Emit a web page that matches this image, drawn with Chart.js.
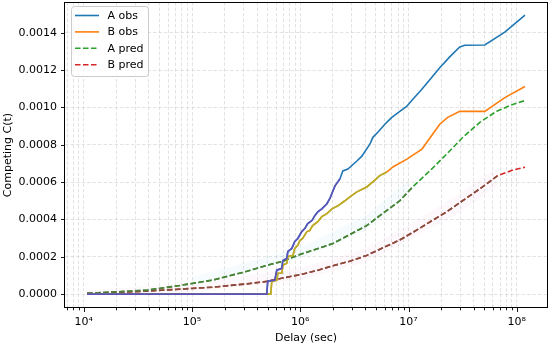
<!DOCTYPE html>
<html>
<head>
<meta charset="utf-8">
<script src="https://cdn.jsdelivr.net/npm/chart.js@4.4.1/dist/chart.umd.min.js"></script>
<style>
  html, body { margin: 0; padding: 0; background: #fff; }
  #wrap { width: 550px; height: 347px; }
</style>
</head>
<body>
<div id="wrap"><canvas id="chart"></canvas></div>
<script>
// observed curves
const aObsX = [1.07e4, 4.9e5, 5.0e5, 5.81e5, 6.06e5, 6.75e5, 6.89e5, 7.5e5, 7.67e5, 8.34e5, 8.89e5, 9.48e5, 1.03e6, 1.10e6, 1.17e6, 1.28e6, 1.36e6, 1.45e6, 1.58e6, 1.76e6, 1.87e6, 2.09e6, 2.32e6, 2.47e6, 2.75e6, 3.33e6, 3.70e6, 4.39e6, 4.68e6, 5.2e6, 6.04e6, 6.7e6, 7.0e6, 8.3e6, 9.6e6, 1.09e7, 1.32e7, 1.57e7, 1.94e7, 2.40e7, 2.97e7, 3.31e7, 5.06e7, 7.74e7, 1.19e8];
const aObsY = [0, 0, 0.000069, 0.000074, 0.000128, 0.000138, 0.000180, 0.000191, 0.000229, 0.000245, 0.000282, 0.000298, 0.000335, 0.000351, 0.000378, 0.000394, 0.000420, 0.000441, 0.000457, 0.000484, 0.000511, 0.000580, 0.000617, 0.000660, 0.000670, 0.000713, 0.000739, 0.000803, 0.000840, 0.000867, 0.000910, 0.000936, 0.000947, 0.000979, 0.001005, 0.001043, 0.001096, 0.001149, 0.001213, 0.001271, 0.001324, 0.001333, 0.001335, 0.001404, 0.001495];

const bObsX = [1.07e4, 5.33e5, 5.45e5, 6.07e5, 6.2e5, 6.75e5, 6.89e5, 7.5e5, 7.67e5, 8.53e5, 8.89e5, 9.48e5, 9.9e5, 1.05e6, 1.15e6, 1.22e6, 1.30e6, 1.45e6, 1.58e6, 1.76e6, 1.96e6, 2.22e6, 2.58e6, 2.87e6, 3.33e6, 4.11e6, 4.68e6, 5.42e6, 6.29e6, 7.16e6, 9.64e6, 1.33e7, 1.94e7, 2.30e7, 2.97e7, 5.06e7, 7.74e7, 1.19e8];
const bObsY = [0, 0, 0.000069, 0.000074, 0.000112, 0.000112, 0.000154, 0.000165, 0.000202, 0.000207, 0.000245, 0.000261, 0.000287, 0.000298, 0.000335, 0.000340, 0.000367, 0.000388, 0.000415, 0.000431, 0.000457, 0.000473, 0.000500, 0.000521, 0.000548, 0.000574, 0.000601, 0.000635, 0.000654, 0.000681, 0.000723, 0.000777, 0.000910, 0.000947, 0.000979, 0.000979, 0.001053, 0.001112];

// predicted curves
const aPredX = [1.07e4, 1.85e4, 3.82e4, 7.7e4, 1.55e5, 3.21e5, 4.9e5, 6.89e5, 9.9e5, 2.0e6, 2.86e6, 4.1e6, 5.42e6, 8.3e6, 1.09e7, 1.57e7, 2.25e7, 3.17e7, 4.55e7, 6.53e7, 9.18e7, 1.19e8];
const aPredY = [0.000004, 0.000011, 0.000021, 0.000046, 0.000075, 0.000122, 0.000154, 0.000176, 0.000212, 0.000271, 0.000319, 0.000367, 0.000420, 0.000500, 0.000574, 0.000660, 0.000750, 0.000840, 0.000920, 0.000980, 0.001016, 0.001037];

const bPredX = [1.07e4, 3.82e4, 1.55e5, 3.21e5, 4.9e5, 6.89e5, 9.9e5, 1.42e6, 2.0e6, 2.86e6, 4.1e6, 5.42e6, 8.3e6, 1.09e7, 2.25e7, 4.55e7, 6.6e7, 9.2e7, 1.19e8];
const bPredY = [0.000003, 0.000016, 0.000037, 0.000055, 0.000068, 0.000086, 0.000104, 0.000126, 0.000152, 0.000176, 0.000207, 0.000240, 0.000290, 0.000330, 0.000441, 0.000564, 0.000633, 0.000665, 0.000680];

// faint bands
const pinkBandX = [1.07e4, 1e5, 1e6, 4e6, 1e7, 3e7, 6.6e7];
const pinkBandLo = [0, 0.000010, 0.000075, 0.000170, 0.000290, 0.000440, 0.000580];
const pinkBandHi = [0.000020, 0.000060, 0.000140, 0.000245, 0.000370, 0.000540, 0.000680];
const cyanBandX = [1e5, 1e6, 4e6, 1e7];
const cyanBandLo = [0.00005, 0.00019, 0.00034, 0.00053];
const cyanBandHi = [0.00009, 0.00025, 0.00042, 0.00061];

// where the darker early segments stop
const aObsOverlayEnd = 2.32e6;
const bObsOverlayEnd = 6.29e6;
const aPredOverlayEnd = 1.1e7;
const bPredOverlayEnd = 6.6e7;

const xTicks = [7e3, 8e3, 9e3];
for (let e = 4; e <= 7; e++) {
  for (let s = 1; s <= 9; s++) xTicks.push(s * Math.pow(10, e));
}
xTicks.push(1e8);
const yTicks = [0, 0.0002, 0.0004, 0.0006, 0.0008, 0.0010, 0.0012, 0.0014];

const sup = { 0: "⁰", 1: "¹", 2: "²", 3: "³", 4: "⁴", 5: "⁵", 6: "⁶", 7: "⁷", 8: "⁸", 9: "⁹" };
function isDecade(v) {
  const l = Math.log10(v);
  return Math.abs(l - Math.round(l)) < 1e-9;
}

function pts(xs, ys, maxX) {
  const out = [];
  xs.forEach((x, i) => {
    if (maxX === undefined || x <= maxX) out.push({ x: x, y: ys[i] });
  });
  return out;
}

function line(label, xs, ys, color, dash, order, maxX) {
  return {
    label: label,
    data: pts(xs, ys, maxX),
    borderColor: color,
    backgroundColor: color,
    borderWidth: 1.6,
    borderDash: dash,
    pointRadius: 0,
    tension: 0,
    fill: false,
    order: order,
  };
}

const datasets = [
  { label: "", data: pts(pinkBandX, pinkBandLo), borderWidth: 0, pointRadius: 0, fill: false, order: 5 },
  { label: "", data: pts(pinkBandX, pinkBandHi), borderWidth: 0, pointRadius: 0, fill: "-1", backgroundColor: "rgba(227,119,194,0.055)", order: 5 },
  { label: "", data: pts(cyanBandX, cyanBandLo), borderWidth: 0, pointRadius: 0, fill: false, order: 5 },
  { label: "", data: pts(cyanBandX, cyanBandHi), borderWidth: 0, pointRadius: 0, fill: "-1", backgroundColor: "rgba(23,190,207,0.04)", order: 5 },
  Object.assign(line("A obs", aObsX, aObsY, "#1f77b4", [], 2), { inLegend: true }),
  Object.assign(line("B obs", bObsX, bObsY, "#ff7f0e", [], 2), { inLegend: true }),
  Object.assign(line("A pred", aPredX, aPredY, "#2ca02c", [5.5, 2.5], 3), { inLegend: true }),
  Object.assign(line("B pred", bPredX, bPredY, "#d62728", [5.5, 2.5], 3), { inLegend: true }),
  line("", aObsX, aObsY, "#5b51b8", [], 0, aObsOverlayEnd),
  line("", bObsX, bObsY, "#b3b12a", [], 0, bObsOverlayEnd),
  line("", aPredX, aPredY, "#4f7f3b", [5.5, 2.5], 1, aPredOverlayEnd),
  line("", bPredX, bPredY, "#80503f", [5.5, 2.5], 1, bPredOverlayEnd),
];

const framePlugin = {
  id: "frame",
  afterDraw(chart) {
    const { ctx, chartArea: a, scales } = chart;
    ctx.save();
    ctx.strokeStyle = "#000";
    ctx.lineWidth = 0.9;
    ctx.setLineDash([]);
    // tick marks
    scales.x.ticks.forEach((t) => {
      const px = Math.round(scales.x.getPixelForValue(t.value)) + 0.5;
      const len = isDecade(t.value) ? 4 : 2.3;
      ctx.beginPath();
      ctx.moveTo(px, a.bottom);
      ctx.lineTo(px, a.bottom + len);
      ctx.stroke();
    });
    scales.y.ticks.forEach((t) => {
      const py = Math.round(scales.y.getPixelForValue(t.value)) + 0.5;
      ctx.beginPath();
      ctx.moveTo(a.left, py);
      ctx.lineTo(a.left - 4, py);
      ctx.stroke();
    });
    // frame
    ctx.lineWidth = 1;
    ctx.strokeRect(Math.round(a.left) - 0.5, Math.round(a.top) + 0.5, Math.round(a.width) + 1, Math.round(a.height) - 1);

    // legend
    const items = chart.data.datasets.filter((d) => d.inLegend);
    const bx = a.left + 6.5, by = a.top + 4.5, bw = 77, bh = 70;
    ctx.beginPath();
    ctx.roundRect(bx, by, bw, bh, 3);
    ctx.fillStyle = "rgba(255,255,255,0.8)";
    ctx.fill();
    ctx.strokeStyle = "#cccccc";
    ctx.lineWidth = 1;
    ctx.stroke();
    ctx.font = "11px 'DejaVu Sans'";
    ctx.textBaseline = "middle";
    ctx.textAlign = "left";
    items.forEach((d, i) => {
      const y = by + 9 + i * 16.4;
      ctx.strokeStyle = d.borderColor;
      ctx.lineWidth = 1.6;
      ctx.setLineDash(d.borderDash.length ? [5.5, 2.5] : []);
      ctx.beginPath();
      ctx.moveTo(bx + 3.5, y);
      ctx.lineTo(bx + 27.5, y);
      ctx.stroke();
      ctx.setLineDash([]);
      ctx.fillStyle = "#000";
      ctx.fillText(d.label, bx + 36, y + 0.5);
    });
    ctx.restore();
  },
};

Chart.defaults.font.family = "'DejaVu Sans', sans-serif";
Chart.defaults.font.size = 11;
Chart.defaults.color = "#000";

new Chart(document.getElementById("chart"), {
  type: "line",
  data: { datasets: datasets },
  options: {
    responsive: true,
    maintainAspectRatio: false,
    animation: false,
    events: [],
    layout: { padding: { top: 2, right: 3, left: 0, bottom: 0 } },
    plugins: {
      legend: { display: false },
      tooltip: { enabled: false },
    },
    scales: {
      x: {
        type: "logarithmic",
        min: 6.7e3,
        max: 1.9e8,
        afterBuildTicks: (scale) => {
          scale.ticks = xTicks.map((v) => ({ value: v }));
        },
        afterFit: (scale) => {
          scale.height = 39;
          scale.paddingLeft = 0;
          scale.paddingRight = 0;
        },
        ticks: {
          autoSkip: false,
          maxRotation: 0,
          padding: 8,
          color: "#000",
          callback: function (value) {
            if (!isDecade(value)) return "";
            return "10" + sup[Math.round(Math.log10(value))];
          },
        },
        grid: {
          drawTicks: false,
          color: "rgba(190,190,190,0.55)",
          lineWidth: 0.8,
        },
        border: { display: false, dash: [3.5, 2] },
        title: {
          display: true,
          text: "Delay (sec)",
          color: "#000",
          padding: { top: 0, bottom: 2.5 },
        },
      },
      y: {
        type: "linear",
        min: -0.0000745,
        max: 0.001565,
        afterBuildTicks: (scale) => {
          scale.ticks = yTicks.map((v) => ({ value: v }));
        },
        afterFit: (scale) => {
          scale.width = 65;
          scale.paddingTop = 0;
          scale.paddingBottom = 0;
        },
        ticks: {
          autoSkip: false,
          padding: 8,
          color: "#000",
          callback: (value) => value.toFixed(4),
        },
        grid: {
          drawTicks: false,
          color: "rgba(190,190,190,0.55)",
          lineWidth: 0.8,
        },
        border: { display: false, dash: [3.5, 2] },
        title: {
          display: true,
          text: "Competing C(t)",
          color: "#000",
          padding: { top: 1.5, bottom: 0 },
        },
      },
    },
  },
  plugins: [framePlugin],
});
</script>
</body>
</html>
